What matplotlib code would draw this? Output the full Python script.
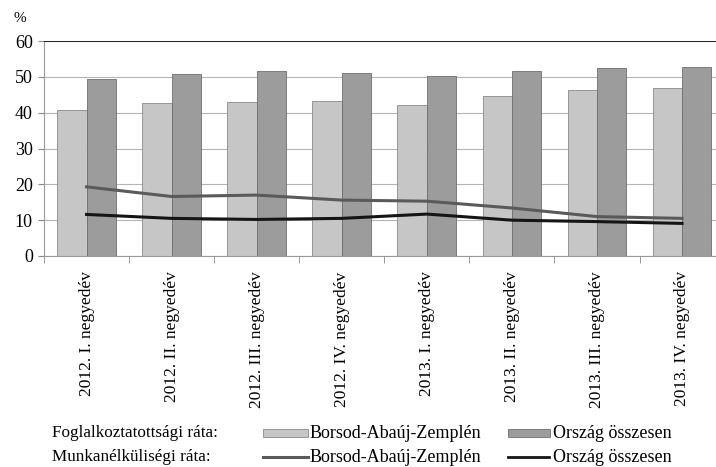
import numpy as np
import matplotlib
matplotlib.use("Agg")
import matplotlib.pyplot as plt
from matplotlib.patches import Rectangle
from matplotlib.lines import Line2D

plt.rcParams['font.family'] = ['Liberation Serif', 'DejaVu Serif']

quarters = ["2012. I. negyedév", "2012. II. negyedév", "2012. III. negyedév", "2012. IV. negyedév",
            "2013. I. negyedév", "2013. II. negyedév", "2013. III. negyedév", "2013. IV. negyedév"]
# Foglalkoztatottsági ráta
emp_baz = [40.7, 42.6, 43.1, 43.3, 42.1, 44.7, 46.3, 46.8]
emp_country = [49.4, 50.8, 51.6, 51.2, 50.1, 51.6, 52.5, 52.7]
# Munkanélküliségi ráta
unemp_baz = [19.3, 16.6, 17.0, 15.6, 15.3, 13.4, 11.0, 10.5]
unemp_country = [11.6, 10.5, 10.2, 10.5, 11.7, 10.0, 9.6, 9.1]

c_light = "#c6c6c6"
c_dark = "#9c9c9c"
c_line_baz = "#5a5a5a"
c_line_cty = "#151515"

fig = plt.figure(figsize=(7.16, 4.67), dpi=100)
ax = fig.add_axes([44 / 716, 1 - 256 / 467, 1 - 44 / 716 + 0.012, 215 / 467])

x = np.arange(len(quarters))
w = 0.345
ax.bar(x - w / 2, emp_baz, w, color=c_light, edgecolor="#8a8a8a", linewidth=0.6, zorder=2)
ax.bar(x + w / 2, emp_country, w, color=c_dark, edgecolor="#6e6e6e", linewidth=0.6, zorder=2)
ax.plot(x, unemp_baz, color=c_line_baz, linewidth=2.2, zorder=3)
ax.plot(x, unemp_country, color=c_line_cty, linewidth=2.2, zorder=3)

ax.set_xlim(-0.5, 7.5)
ax.set_ylim(0, 60)
ax.set_yticks(range(0, 61, 10))
ax.yaxis.grid(True, color="#b5b5b5", linewidth=0.8, zorder=0)
ax.axhline(60, color="#222222", linewidth=1.4, zorder=4)

ax.set_xticks(x)
ax.set_xticklabels(quarters, rotation=90, fontsize=12.5)
ax.set_xticks(np.arange(-0.5, 8, 1), minor=True)
ax.tick_params(axis='x', which='major', length=0, pad=11)
ax.tick_params(axis='x', which='minor', length=5, color="#888888")
ax.tick_params(axis='y', labelsize=13, length=4, color="#888888", pad=4)

for side in ["top", "right"]:
    ax.spines[side].set_visible(False)
ax.spines["left"].set_color("#999999")
ax.spines["bottom"].set_color("#999999")

fig.text(13 / 716, 1 - 18 / 467, "%", fontsize=11, va="center", ha="left")

# legend, drawn by hand
row1 = 1 - 433 / 467
row2 = 1 - 457 / 467
fig.text(52 / 716, row1, "Foglalkoztatottsági ráta:", fontsize=12.3, va="center")
fig.text(52 / 716, row2, "Munkanélküliségi ráta:", fontsize=12.3, va="center")

fig.patches.append(Rectangle((263 / 716, row1 - 4 / 467), 45 / 716, 8 / 467,
                             transform=fig.transFigure, facecolor=c_light, edgecolor="#8a8a8a", linewidth=0.6))
fig.text(310 / 716, row1, "Borsod-Abaúj-Zemplén", fontsize=13, va="center")
fig.patches.append(Rectangle((508 / 716, row1 - 4 / 467), 42 / 716, 8 / 467,
                             transform=fig.transFigure, facecolor=c_dark, edgecolor="#6e6e6e", linewidth=0.6))
fig.text(553 / 716, row1, "Ország összesen", fontsize=13, va="center")

fig.lines.append(Line2D([263 / 716, 308 / 716], [row2, row2], transform=fig.transFigure,
                        color=c_line_baz, linewidth=2.2))
fig.text(310 / 716, row2, "Borsod-Abaúj-Zemplén", fontsize=13, va="center")
fig.lines.append(Line2D([508 / 716, 549 / 716], [row2, row2], transform=fig.transFigure,
                        color=c_line_cty, linewidth=2.0))
fig.text(553 / 716, row2, "Ország összesen", fontsize=13, va="center")

fig.savefig("out.png", dpi=100)
